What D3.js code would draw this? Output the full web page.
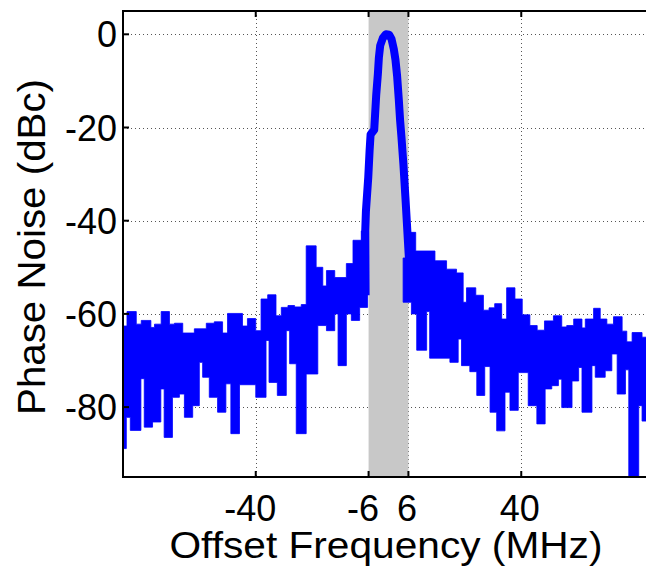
<!DOCTYPE html>
<html>
<head>
<meta charset="utf-8">
<script src="https://cdn.jsdelivr.net/npm/d3@7"></script>
<style>
  html, body { margin: 0; padding: 0; background: #fff; overflow: hidden; }
  svg { display: block; font-family: "Liberation Sans", Arial, Helvetica, sans-serif; }
</style>
</head>
<body>
<svg id="chart" width="646" height="579"></svg>
<script>
// Axis ticks
const xTicks = [-40, -6, 6, 40];
const yTicks = [0, -20, -40, -60, -80];
const xDomain = [-80, 80];
const yDomain = [-95, 5];

// Integration bandwidth around the carrier (MHz)
const carrierBand = [-6, 6];

// Noise floor below the carrier: piecewise max / min envelope.
// Each level holds from edges[i] to edges[i + 1] (MHz), values in dBc.
const leftMaxEdges = [-80, -78.8, -76, -74.5, -71.6, -70.5, -68.5, -66, -64.5, -62, -58.5, -54.9,
  -52.5, -50, -48.5, -44, -42.5, -40, -38.4, -36.4, -33.9, -32.3, -30.3, -28.3, -26.3, -24.8,
  -21.8, -19.8, -18.7, -16.2, -12.7, -10.7, -8.2, -6.3];
const leftMaxLevels = [-62.6, -59.5, -62.2, -61.4, -62.9, -62.2, -59.5, -62.2, -62, -64.1, -63.2,
  -62, -61.7, -64.1, -59.9, -62.6, -61, -63.6, -56.8, -55.9, -60.4, -58.6, -58.2, -58.5, -58,
  -45.4, -50, -54, -50.7, -52.2, -49.2, -44.2, -42.2];
const leftMinEdges = [-80, -79, -77.8, -74.6, -73.6, -71.1, -68.6, -67.6, -65.1, -63, -61.5, -59,
  -57, -56, -54, -51.5, -49, -47.5, -44.9, -40, -36.9, -36, -33.5, -30.8, -29.8, -27.8, -24.8,
  -21.3, -18.7, -16.2, -15.2, -12.7, -11.2, -8.7, -6.3];
const leftMinLevels = [-88.9, -82.2, -85, -73.9, -84.3, -83.2, -76.1, -86.5, -77.9, -77.2, -82.2,
  -79.7, -70.4, -73.6, -77.9, -81.1, -75, -85.7, -75.2, -77.9, -65.7, -74.7, -77.5, -63.6, -70.7,
  -85.7, -72.9, -62.5, -63.6, -60, -71.1, -60, -61.4, -58.6];

// Noise floor above the carrier
const rightMaxEdges = [4.4, 6.4, 8.2, 14, 17.5, 20.5, 22.5, 23.5, 26.3, 28.6, 30.3, 32, 34.1,
  35.6, 38.1, 40.3, 42.6, 44.8, 47, 49.7, 52.2, 53.7, 55.8, 58.3, 59.3, 61.8, 63.8, 65.8, 67.8,
  70.4, 71.8, 73.4, 76.4, 80];
const rightMaxLevels = [-48, -42.5, -46.5, -48.6, -50.4, -51.2, -57.5, -54.4, -56, -59.2, -58.7,
  -57.8, -61.1, -54.4, -56.8, -60.2, -62.5, -63.5, -61.5, -60.4, -62.8, -62.5, -61.1, -63, -61.1,
  -58.8, -61.1, -62.2, -60.6, -63.7, -66, -64, -65];
const rightMinEdges = [4.4, 6.9, 8.5, 11.5, 12.4, 18.5, 21, 22, 24.5, 26.6, 29, 30.6, 32.6, 35.1,
  36.6, 39.1, 42.1, 44.7, 47.2, 49.2, 51.2, 52.2, 55.3, 57.3, 58.3, 61.3, 62.3, 65.3, 67.3, 68.9,
  71.4, 72.4, 75.4, 76.4, 80];
const rightMinLevels = [-57.5, -60, -67.8, -59.5, -69.5, -70.4, -65.4, -71.1, -72.4, -77.5, -71.3,
  -81.1, -85.1, -76.8, -80.7, -72.6, -79.7, -83.6, -76.1, -75.4, -74, -80.1, -74.4, -71.5, -81.1,
  -71.1, -73.6, -72.2, -68.6, -77.2, -72, -97, -79.7, -83];

// Carrier trace (MHz, dBc)
const carrierFreq = [-6.9, -7.0, -6.8, -6.1, -5.7, -5.4, -4.3, -3.7, -3.2, -2.9, -2.5, -1.7,
  -0.8, 0.2, 0.9, 1.6, 2.1, 2.6, 3.1, 3.5, 3.9, 4.5, 5.1, 5.5, 5.9, 6.3];
const carrierLevel = [-56, -42, -37.9, -30.7, -25, -21.5, -20.5, -13, -8.5, -5, -2.4, -0.8,
  0, -0.1, -1, -3.2, -5.5, -9, -14, -18.5, -22, -28, -35, -40, -45, -50];

const xLabel = "Offset Frequency (MHz)";
const yLabel = "Phase Noise (dBc)";

// Layout
const plot = { left: 123, right: 654, top: 11, bottom: 477 };
const traceColor = "#0000ff";

const svg = d3.select("#chart");
const x = d3.scaleLinear().domain(xDomain).range([plot.left, plot.right]);
const y = d3.scaleLinear().domain(yDomain).range([plot.bottom, plot.top]);

svg.append("defs").append("clipPath").attr("id", "plot-clip")
  .append("rect")
  .attr("x", plot.left).attr("y", plot.top)
  .attr("width", plot.right - plot.left).attr("height", plot.bottom - plot.top);

// Dotted grid
const grid = svg.append("g").attr("stroke", "#555").attr("stroke-width", 1)
  .attr("stroke-dasharray", "1,3");
grid.selectAll("line.h").data(yTicks).join("line")
  .attr("x1", plot.left).attr("x2", plot.right)
  .attr("y1", d => Math.round(y(d)) + 0.5).attr("y2", d => Math.round(y(d)) + 0.5);
grid.selectAll("line.v").data(xTicks).join("line")
  .attr("y1", plot.top).attr("y2", plot.bottom)
  .attr("x1", d => Math.round(x(d)) + 0.5).attr("x2", d => Math.round(x(d)) + 0.5);

// Shaded carrier band
svg.append("rect")
  .attr("x", x(carrierBand[0])).attr("y", plot.top)
  .attr("width", x(carrierBand[1]) - x(carrierBand[0]))
  .attr("height", plot.bottom - plot.top)
  .attr("fill", "#c8c8c8");

const data = svg.append("g").attr("clip-path", "url(#plot-clip)");
const line = d3.line().x(d => x(d[0])).y(d => y(d[1]));

// Turn a piecewise-constant series into step vertices
function steps(edges, levels) {
  const pts = [];
  levels.forEach((v, i) => { pts.push([edges[i], v], [edges[i + 1], v]); });
  return pts;
}

function envelope(maxE, maxL, minE, minL) {
  return steps(maxE, maxL).concat(steps(minE, minL).reverse());
}

[envelope(leftMaxEdges, leftMaxLevels, leftMinEdges, leftMinLevels),
 envelope(rightMaxEdges, rightMaxLevels, rightMinEdges, rightMinLevels)].forEach(poly => {
  data.append("path")
    .attr("d", line(poly) + "Z")
    .attr("fill", traceColor)
    .attr("stroke", traceColor)
    .attr("stroke-width", 0.8);
});

data.append("path")
  .datum(carrierFreq.map((f, i) => [f, carrierLevel[i]]))
  .attr("d", line)
  .attr("fill", "none")
  .attr("stroke", traceColor)
  .attr("stroke-width", 8)
  .attr("stroke-linejoin", "round");

// Axes box and inward ticks
const axes = svg.append("g").attr("stroke", "#000").attr("stroke-width", 2).attr("fill", "none");
axes.append("path").attr("d",
  `M${plot.right},${plot.top}H${plot.left}V${plot.bottom}H${plot.right}`);
const tickLen = 6;
xTicks.forEach(t => {
  const px = x(t);
  axes.append("line").attr("x1", px).attr("x2", px).attr("y1", plot.bottom).attr("y2", plot.bottom - tickLen);
  axes.append("line").attr("x1", px).attr("x2", px).attr("y1", plot.top).attr("y2", plot.top + tickLen);
});
yTicks.forEach(t => {
  const py = y(t);
  axes.append("line").attr("x1", plot.left).attr("x2", plot.left + tickLen).attr("y1", py).attr("y2", py);
});

// Tick labels
const tickFont = 36;
svg.append("g").selectAll("text").data(xTicks).join("text")
  .attr("x", d => x(d) + (d < 0 ? -5.5 : -1.5))
  .attr("y", 521)
  .attr("text-anchor", "middle")
  .attr("font-size", tickFont)
  .attr("fill", "#000")
  .text(d => String(d));
svg.append("g").selectAll("text").data(yTicks).join("text")
  .attr("x", plot.left - 6)
  .attr("y", d => y(d) + 13)
  .attr("text-anchor", "end")
  .attr("font-size", tickFont)
  .attr("fill", "#000")
  .text(d => String(d));

// Axis titles
svg.append("text")
  .attr("x", 386).attr("y", 558)
  .attr("text-anchor", "middle")
  .attr("font-size", 37)
  .attr("textLength", 433).attr("lengthAdjust", "spacingAndGlyphs")
  .attr("fill", "#000")
  .text(xLabel);
svg.append("text")
  .attr("transform", "translate(45,247) rotate(-90)")
  .attr("text-anchor", "middle")
  .attr("font-size", 39)
  .attr("textLength", 336).attr("lengthAdjust", "spacingAndGlyphs")
  .attr("fill", "#000")
  .text(yLabel);
</script>
</body>
</html>
